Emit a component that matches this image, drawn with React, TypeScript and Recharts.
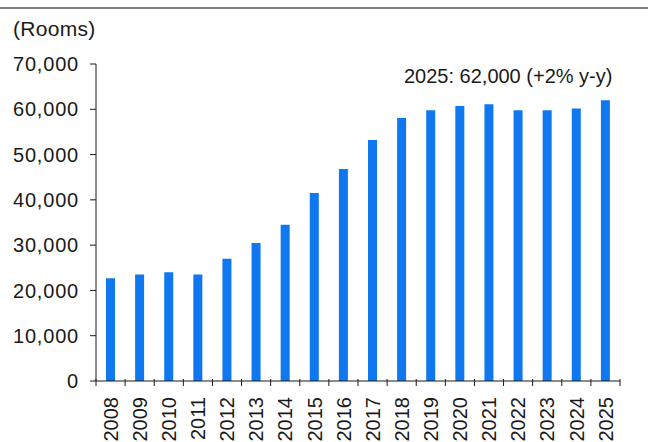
import { Bar, BarChart, Label, ReferenceDot, XAxis, YAxis } from "recharts";

const years = [
  "2008", "2009", "2010", "2011", "2012", "2013", "2014", "2015", "2016",
  "2017", "2018", "2019", "2020", "2021", "2022", "2023", "2024", "2025",
];
const rooms = [
  22700, 23500, 24000, 23500, 27000, 30500, 34500, 41500, 46800,
  53200, 58100, 59800, 60700, 61100, 59800, 59800, 60200, 62000,
];
const yTicks = [0, 10000, 20000, 30000, 40000, 50000, 60000, 70000];
const unitLabel = "(Rooms)";
const note = "2025: 62,000 (+2% y-y)";

const data = years.map((year, i) => ({ year, rooms: rooms[i] }));

const FONT = "'Liberation Sans', Arial, sans-serif";
const INK = "#1a1a1a";

function YearTick(props: any) {
  const { x, y, payload, index } = props;
  const half = payload?.offset ?? 0;
  const last = index === years.length - 1;
  return (
    <g>
      <line x1={x - half} x2={x - half} y1={y - 8} y2={y - 1} stroke={INK} />
      {last && <line x1={x + half} x2={x + half} y1={y - 8} y2={y - 1} stroke={INK} />}
      <text
        transform={`translate(${x}, ${y + 10}) rotate(-90)`}
        textAnchor="end"
        dy="0.36em"
        fontSize={20}
        fontFamily={FONT}
        fill={INK}
      >
        {payload.value}
      </text>
    </g>
  );
}

export default function App() {
  return (
    <div style={{ position: "absolute", left: 0, top: 0, width: 648, height: 442, background: "#fff" }}>
      <div style={{ position: "absolute", left: 0, top: 7, width: 648, height: 2, background: "#808080" }} />
      <div
        style={{
          position: "absolute",
          left: 13,
          top: 17,
          fontFamily: FONT,
          fontSize: 21,
          letterSpacing: 0.3,
          lineHeight: "24px",
          color: INK,
        }}
      >
        {unitLabel}
      </div>
      <BarChart
        width={648}
        height={442}
        data={data}
        margin={{ top: 64, right: 28, left: 0, bottom: 0 }}
        barCategoryGap={0}
      >
        <XAxis
          dataKey="year"
          interval={0}
          height={61}
          tickLine={false}
          axisLine={{ stroke: INK }}
          tick={<YearTick />}
          tickMargin={0}
        />
        <YAxis
          domain={[0, 70000]}
          ticks={yTicks}
          width={96}
          tickSize={6}
          tickMargin={11}
          axisLine={{ stroke: INK }}
          tickLine={{ stroke: INK }}
          tick={{ fill: INK, fontSize: 20, fontFamily: FONT, letterSpacing: 0.8 }}
          tickFormatter={(v) => Number(v).toLocaleString("en-US")}
        />
        <Bar dataKey="rooms" fill="#0f78f0" barSize={9} isAnimationActive={false} />
        <ReferenceDot x="2025" y={62000} r={0} fill="none" stroke="none">
          <Label
            content={(p: any) => (
              <text
                x={p.viewBox.x + 7}
                y={p.viewBox.y - 17}
                textAnchor="end"
                fontSize={20}
                fontFamily={FONT}
                fill={INK}
              >
                {note}
              </text>
            )}
          />
        </ReferenceDot>
      </BarChart>
    </div>
  );
}
